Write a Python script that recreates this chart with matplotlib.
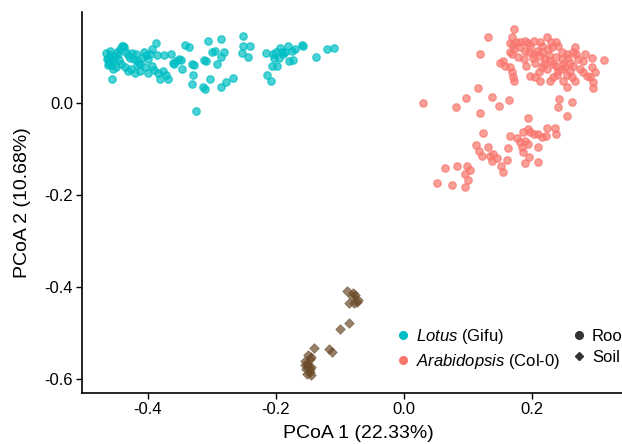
import matplotlib
matplotlib.use("Agg")
import matplotlib.pyplot as plt
from matplotlib.lines import Line2D
import numpy as np

plt.rcParams['font.family'] = ['Liberation Sans', 'DejaVu Sans']
plt.rcParams['mathtext.fontset'] = 'custom'
plt.rcParams['mathtext.rm'] = 'Liberation Sans'
plt.rcParams['mathtext.it'] = 'Liberation Sans:italic'

# PCoA coordinates, root samples
lotus_x = [-0.465, -0.462, -0.459, -0.456, -0.460, -0.457, -0.454, -0.451, -0.447, -0.443,
           -0.440, -0.437, -0.434, -0.431, -0.445, -0.442, -0.449, -0.454, -0.462, -0.463,
           -0.427, -0.424, -0.421, -0.418, -0.415, -0.412, -0.409, -0.405, -0.402, -0.399,
           -0.396, -0.393, -0.435, -0.431, -0.426, -0.420, -0.412, -0.404, -0.399, -0.456,
           -0.438, -0.416, -0.448, -0.459,
           -0.387, -0.385, -0.374, -0.363, -0.393, -0.390, -0.384, -0.376, -0.371, -0.381,
           -0.368, -0.360, -0.356, -0.351, -0.348, -0.359, -0.346, -0.342, -0.335, -0.331,
           -0.328, -0.329, -0.331, -0.313, -0.310, -0.312, -0.309, -0.306, -0.299, -0.302,
           -0.295, -0.292, -0.285, -0.285, -0.280, -0.285, -0.278, -0.267, -0.324,
           -0.251, -0.251, -0.240, -0.252, -0.243, -0.215, -0.204, -0.202, -0.193, -0.190,
           -0.188, -0.195, -0.181, -0.174, -0.170, -0.159, -0.157, -0.206, -0.198, -0.213,
           -0.207, -0.179, -0.173, -0.137, -0.119, -0.109, -0.185, -0.199]
lotus_y = [0.107, 0.098, 0.103, 0.094, 0.087, 0.081, 0.090, 0.100, 0.105, 0.116,
           0.124, 0.120, 0.111, 0.103, 0.092, 0.085, 0.077, 0.072, 0.081, 0.094,
           0.098, 0.107, 0.094, 0.105, 0.090, 0.083, 0.098, 0.111, 0.103, 0.094,
           0.105, 0.116, 0.077, 0.068, 0.072, 0.064, 0.068, 0.077, 0.064, 0.051,
           0.124, 0.081, 0.111, 0.113,
           0.129, 0.103, 0.103, 0.105, 0.079, 0.070, 0.064, 0.068, 0.059, 0.051,
           0.051, 0.087, 0.090, 0.094, 0.092, 0.085, 0.074, 0.126, 0.120, 0.083,
           0.081, 0.061, 0.040, 0.033, 0.029, 0.092, 0.090, 0.133, 0.111, 0.051,
           0.113, 0.085, 0.100, 0.139, 0.111, 0.035, 0.044, 0.053, -0.019,
           0.144, 0.124, 0.122, 0.107, 0.100, 0.107, 0.105, 0.098, 0.118, 0.111,
           0.105, 0.096, 0.122, 0.113, 0.116, 0.126, 0.122, 0.079, 0.079, 0.061,
           0.048, 0.090, 0.092, 0.100, 0.116, 0.118, 0.109, 0.111]

arab_x = [0.132, 0.173, 0.169, 0.166, 0.171, 0.176, 0.173, 0.169, 0.166, 0.182,
          0.190, 0.194, 0.204, 0.213, 0.217, 0.224, 0.231, 0.238, 0.119, 0.190,
          0.196, 0.204, 0.208, 0.213, 0.217, 0.227, 0.238, 0.247, 0.255, 0.265,
          0.270, 0.280, 0.295, 0.313, 0.294, 0.299, 0.291, 0.296, 0.296, 0.151,
          0.155, 0.158, 0.166, 0.169, 0.171, 0.173, 0.192, 0.205, 0.216, 0.212,
          0.229, 0.233, 0.239, 0.241, 0.247, 0.252, 0.260, 0.265, 0.255, 0.263,
          0.268, 0.249, 0.255, 0.229, 0.233, 0.198, 0.205, 0.213, 0.276, 0.280,
          0.286, 0.182, 0.198, 0.202, 0.221, 0.226, 0.232, 0.241, 0.248, 0.257,
          0.268, 0.273, 0.283, 0.249, 0.219, 0.179, 0.188, 0.224, 0.240, 0.260,
          0.116, 0.098, 0.138, 0.165, 0.082, 0.149, 0.119, 0.030, 0.243, 0.263,
          0.241, 0.255, 0.194, 0.124, 0.166, 0.177, 0.187, 0.194, 0.198, 0.204,
          0.210, 0.216, 0.223, 0.224, 0.237, 0.239, 0.182, 0.190, 0.194, 0.185,
          0.187, 0.210, 0.196, 0.190, 0.210, 0.163, 0.162, 0.113, 0.118, 0.122,
          0.132, 0.135, 0.138, 0.140, 0.146, 0.153, 0.155, 0.065, 0.083, 0.099,
          0.104, 0.096, 0.101, 0.052, 0.075, 0.096]
arab_y = [0.143, 0.159, 0.143, 0.129, 0.126, 0.131, 0.116, 0.105, 0.109, 0.131,
          0.134, 0.129, 0.134, 0.131, 0.123, 0.142, 0.131, 0.131, 0.105, 0.112,
          0.109, 0.105, 0.112, 0.101, 0.109, 0.103, 0.100, 0.110, 0.105, 0.109,
          0.105, 0.090, 0.096, 0.092, 0.077, 0.066, 0.055, 0.044, 0.031, 0.087,
          0.090, 0.079, 0.077, 0.066, 0.055, 0.047, 0.079, 0.087, 0.077, 0.066,
          0.090, 0.083, 0.079, 0.069, 0.072, 0.077, 0.087, 0.079, 0.061, 0.055,
          0.047, 0.047, 0.033, 0.047, 0.055, 0.058, 0.055, 0.047, 0.072, 0.066,
          0.058, 0.120, 0.122, 0.098, 0.094, 0.116, 0.120, 0.124, 0.094, 0.098,
          0.120, 0.094, 0.105, 0.083, 0.085, 0.100, 0.094, 0.072, 0.059, 0.068,
          0.031, 0.009, 0.013, 0.006, -0.010, -0.007, -0.023, 0.000, 0.007, 0.001,
          -0.010, -0.030, -0.034, -0.067, -0.073, -0.077, -0.064, -0.058, -0.064, -0.069,
          -0.069, -0.075, -0.073, -0.056, -0.056, -0.069, -0.086, -0.083, -0.090, -0.097,
          -0.108, -0.097, -0.119, -0.132, -0.129, -0.099, -0.125, -0.093, -0.105, -0.116,
          -0.097, -0.116, -0.127, -0.112, -0.121, -0.138, -0.151, -0.143, -0.138, -0.138,
          -0.146, -0.156, -0.168, -0.175, -0.179, -0.183]

# soil samples
soil_x = [-0.088, -0.079, -0.076, -0.080, -0.086, -0.0775, -0.073, -0.071, -0.086, -0.099,
          -0.140, -0.116, -0.112, -0.150, -0.146, -0.144, -0.154, -0.151, -0.149, -0.146,
          -0.144, -0.147, -0.145, -0.151, -0.154, -0.1525]
soil_y = [-0.410, -0.414, -0.418, -0.420, -0.436, -0.435, -0.433, -0.430, -0.479, -0.492,
          -0.533, -0.535, -0.542, -0.548, -0.557, -0.553, -0.561, -0.568, -0.573, -0.578,
          -0.574, -0.586, -0.593, -0.589, -0.571, -0.578]

col_lotus = '#00BFC4'
col_arab = '#F8766D'
col_soil = '#6B4B2A'

fig = plt.figure(figsize=(6.22, 4.44), dpi=100)
ax = fig.add_axes([0.132, 0.115, 0.918, 0.858])

ax.scatter(lotus_x, lotus_y, s=28, marker='o', color=col_lotus, alpha=0.7, linewidths=1)
ax.scatter(arab_x, arab_y, s=28, marker='o', color=col_arab, alpha=0.7, linewidths=1)
ax.scatter(soil_x, soil_y, s=24, marker='D', color=col_soil, alpha=0.7, linewidths=0.5)

ax.set_xlim(-0.5025, 0.39)
ax.set_ylim(-0.631, 0.197)
ax.set_xticks([-0.4, -0.2, 0.0, 0.2])
ax.set_yticks([-0.6, -0.4, -0.2, 0.0])
ax.xaxis.set_major_formatter(matplotlib.ticker.FormatStrFormatter('%.1f'))
ax.yaxis.set_major_formatter(matplotlib.ticker.FormatStrFormatter('%.1f'))
for s in ['top', 'right']:
    ax.spines[s].set_visible(False)
for s in ['left', 'bottom']:
    ax.spines[s].set_linewidth(1.2)
ax.tick_params(length=4, width=1, labelsize=12, colors='black', pad=2.5)
ax.set_xlabel('PCoA 1 (22.33%)', fontsize=14)
ax.set_ylabel('PCoA 2 (10.68%)', fontsize=14)
ax.xaxis.set_label_coords((358 - 82) / 571, -0.083)
ax.yaxis.set_label_coords(-0.09, 0.5)

handles = [
    Line2D([], [], marker='o', ls='', color=col_lotus, markersize=5.5),
    Line2D([], [], marker='o', ls='', color=col_arab, markersize=5.5),
    Line2D([], [], marker='o', ls='', color='#333333', markersize=5.5),
    Line2D([], [], marker='D', ls='', color='#333333', markersize=4.5),
]
labels = [r'$\mathit{Lotus}$ (Gifu)', r'$\mathit{Arabidopsis}$ (Col-0)', 'Root', 'Soil']
ax.legend(handles, labels, ncol=2, frameon=False, fontsize=12,
          loc='upper left', bbox_to_anchor=(397 / 622, 1 - 327 / 444),
          bbox_transform=fig.transFigure, handlelength=0.7, handletextpad=0.45,
          columnspacing=0.75, labelspacing=0.35, borderpad=0, borderaxespad=0)

fig.savefig('out.png', dpi=100)
